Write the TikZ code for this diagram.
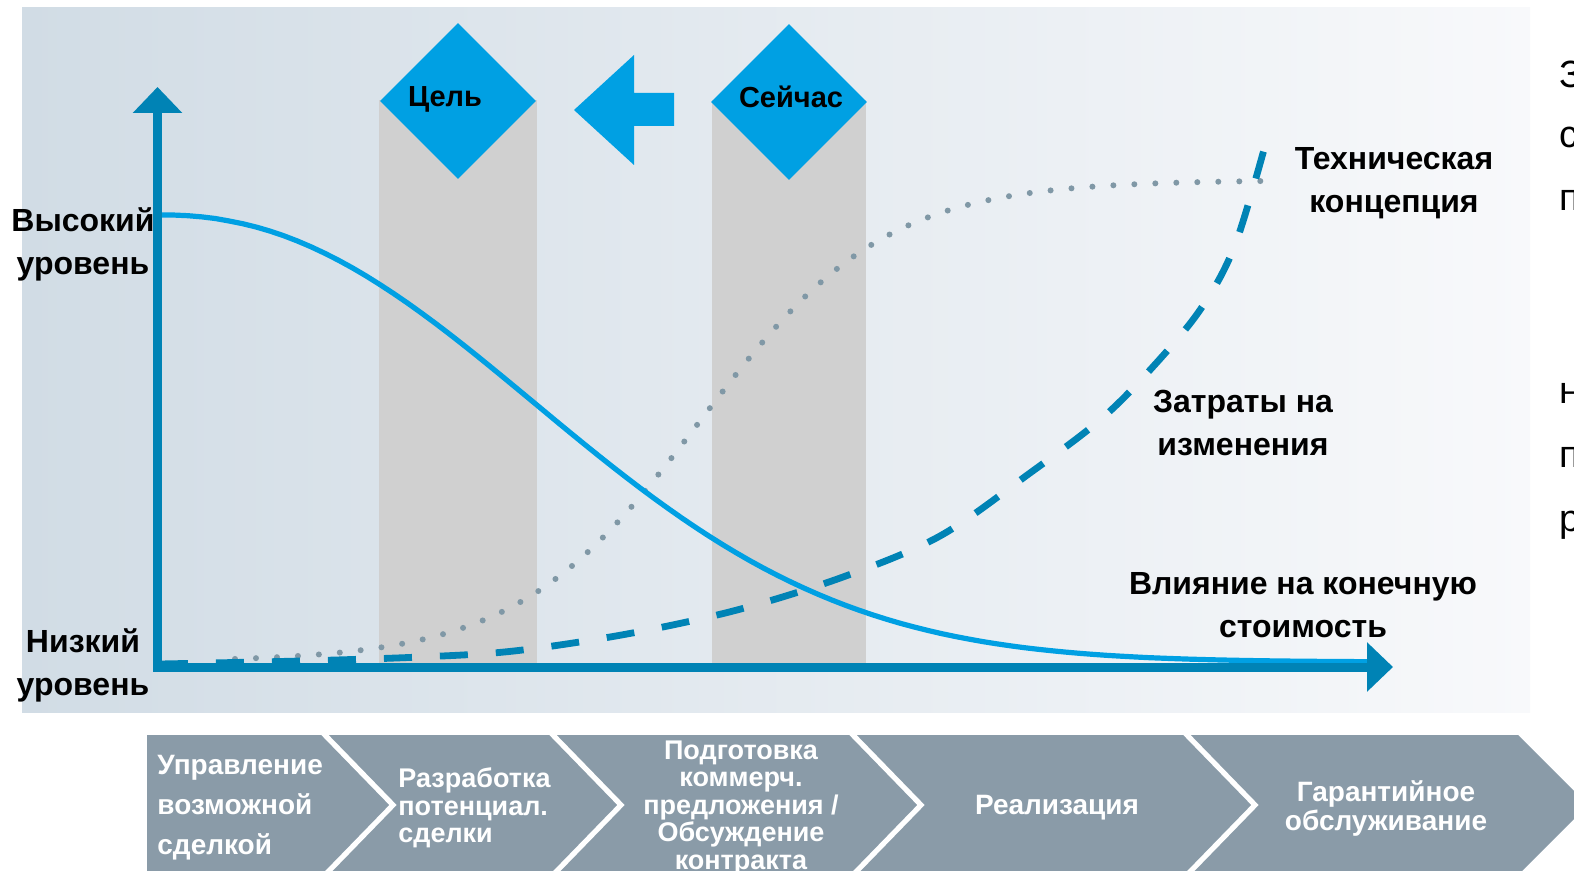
\documentclass[tikz,border=0pt]{standalone}
\usepackage{fontspec}
\setmainfont{Liberation Sans}
\usetikzlibrary{shapes.geometric, arrows.meta}

\definecolor{bgleft}{RGB}{209,220,229}
\definecolor{bgright}{RGB}{248,249,251}
\definecolor{colgray}{RGB}{208,208,208}
\definecolor{markblue}{RGB}{0,160,227}
\definecolor{axisblue}{RGB}{0,131,181}
\definecolor{dotgray}{RGB}{128,152,166}
\definecolor{chevgray}{RGB}{138,155,168}

\begin{document}
\begin{tikzpicture}[x=0.5pt, y=-0.5pt,
  lbl/.style={font=\bfseries\fontsize{16}{21.5}\selectfont, align=center, inner sep=0pt},
  marker/.style={diamond, fill=markblue, minimum width=78pt, minimum height=78pt, inner sep=0pt},
  marktext/.style={font=\bfseries\fontsize{14.5}{17}\selectfont, inner sep=0pt},
  axis/.style={draw=axisblue, line width=4.5pt, -{Triangle[length=13pt, width=24pt]}},
  impact/.style={draw=markblue, line width=2.6pt},
  costs/.style={draw=axisblue, line width=3.4pt, dash pattern=on 14pt off 14pt},
  concept/.style={draw=dotgray, line width=3pt, line cap=round, dash pattern=on 0pt off 10.5pt},
  phase/.style={font=\bfseries\fontsize{13.5}{13.75}\selectfont, text=white, inner sep=0pt},
  sep/.style={draw=white, line width=2.6pt},
  cut/.style={font=\fontsize{19}{22}\selectfont, anchor=base west, inner sep=0pt}]

  \useasboundingbox (0,0) rectangle (1574,871);
  \clip (0,0) rectangle (1574,871);

  % background panel and the two phase columns
  \shade[left color=bgleft, right color=bgright] (22,8) rectangle (1530,712);
  \fill[colgray] (379,100) rectangle (537,667);
  \fill[colgray] (712,100) rectangle (866,667);

  % markers
  \node[marker] (goal) at (458,101) {};
  \node[marker] (now) at (789,102) {};
  \node[marktext] (goaltext) at (445,99) {Цель};
  \node[marktext] (nowtext) at (791,97) {Сейчас};
  \fill[markblue] (574,110) -- (634,55) -- (634,93) -- (674,93) -- (674,126)
    -- (634,126) -- (634,165) -- cycle;

  % curves
  \draw[concept] plot[domain=235:1271, samples=90] (\x, {662-482/(1+exp(-(\x-700)/92))});
  \draw[costs] plot[smooth, tension=.55] coordinates {(160,664) (300,661) (420,657)
    (514,651) (627,634) (737,610) (843,577) (940,536) (1030,473) (1100,420)
    (1150,370) (1200,310) (1235,245) (1268,135)};
  \draw[impact] plot[domain=160.5:1380, samples=90] (\x, {662-447*exp(-((\x-160)/493)^2.2)});

  % axes
  \coordinate (ybot) at (157.5,671.5);
  \coordinate (ytop) at (157.5,87);
  \coordinate (xbeg) at (153,667);
  \coordinate (xend) at (1393,667);
  \draw[axis] (ybot) -- (ytop);
  \draw[axis] (xbeg) -- (xend);

  % labels
  \node[lbl] (high) at (83,244) {Высокий\\уровень};
  \node[lbl] (low) at (83,665) {Низкий\\уровень};
  \node[lbl] (tech) at (1394,183) {Техническая\\концепция};
  \node[lbl] (change) at (1243,423) {Затраты на\\изменения};
  \node[lbl] (value) at (1303,605) {Влияние на конечную\\стоимость};

  % text running off the right edge
  \node[cut] (c1) at (1559,88) {З};
  \node[cut] (c2) at (1559,148) {с};
  \node[cut] (c3) at (1559,211) {п};
  \node[cut] (c4) at (1559,404) {н};
  \node[cut] (c5) at (1559,467) {п};
  \node[cut] (c6) at (1559,531) {р};

  % phases
  \fill[chevgray] (147,735) -- (1518,735) -- (1588,805) -- (1518,875) -- (147,875) -- cycle;
  \foreach \px in {393,621,921,1255}
    \draw[sep] (\px-70,733) -- (\px,805) -- (\px-70,877);
  \node[phase, anchor=west, align=left, font=\bfseries\fontsize{14}{20}\selectfont]
    (ph1) at (157,808) {Управление\\возможной\\сделкой};
  \node[phase, anchor=west, align=left] (ph2) at (398,808) {Разработка\\потенциал.\\сделки};
  \node[phase, align=center] (ph3) at (741,808)
    {Подготовка\\коммерч.\\предложения /\\Обсуждение\\контракта};
  \node[phase, font=\bfseries\fontsize{14}{14}\selectfont] (ph4) at (1057,808) {Реализация};
  \node[phase, align=center, font=\bfseries\fontsize{14}{14.5}\selectfont]
    (ph5) at (1386,808) {Гарантийное\\обслуживание};
\end{tikzpicture}
\end{document}
